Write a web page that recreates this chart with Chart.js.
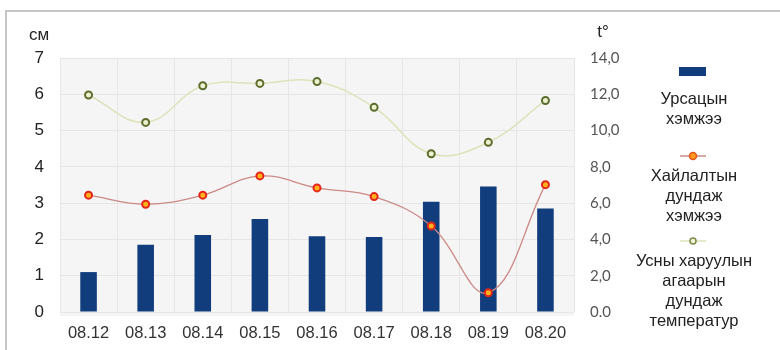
<!DOCTYPE html>
<html>
<head>
<meta charset="utf-8">
<title>Урсац, хайлалт, температур</title>
<script src="https://cdn.jsdelivr.net/npm/chart.js@4/dist/chart.umd.min.js"></script>
<style>
  body { margin: 0; background: #fff; }
  #wrap { position: relative; width: 780px; height: 350px; overflow: hidden; }
  #frame {
    position: absolute; left: 5px; top: 10px; width: 800px; height: 360px;
    border-top: 2px solid #c6c6c6; border-left: 2px solid #c6c6c6;
  }
  canvas { position: absolute; left: 0; top: 0; }
</style>
</head>
<body>
<div id="wrap">
  <div id="frame"></div>
  <canvas id="chart" width="780" height="350"></canvas>
</div>
<script>
// Өдрүүд
const dates = ['08.12', '08.13', '08.14', '08.15', '08.16', '08.17', '08.18', '08.19', '08.20'];

// Урсацын хэмжээ, см
const runoff = [1.10, 1.85, 2.12, 2.56, 2.09, 2.07, 3.04, 3.46, 2.85];

// Хайлалтын дундаж хэмжээ, см
const meltAvg = [3.22, 2.97, 3.22, 3.75, 3.42, 3.18, 2.37, 0.53, 3.51];

// Агаарын дундаж температур, t°
const airTemp = [11.96, 10.45, 12.47, 12.6, 12.7, 11.28, 8.72, 9.35, 11.66];

// Баруун тэнхлэгийн шошго
const tempTicks = ['0.0', '2,0', '4,0', '6,0', '8,0', '10,0', '12,0', '14,0'];

const legendLines = [
  ['Урсацын', 'хэмжээ'],
  ['Хайлалтын', 'дундаж', 'хэмжээ'],
  ['Усны харуулын', 'агаарын', 'дундаж', 'температур'],
];

const FONT = "'Liberation Sans', Arial, sans-serif";
const BAR_COLOR = '#113d7c';
const MELT_LINE = '#cc8a86';
const TEMP_LINE = '#dfe2ba';

// саарал дэвсгэр
const plotBackground = {
  id: 'plotBackground',
  beforeDraw(chart) {
    const { ctx, chartArea: a } = chart;
    ctx.save();
    ctx.fillStyle = '#f5f5f5';
    ctx.fillRect(a.left, a.top, a.right - a.left, a.bottom - a.top + 4);
    ctx.restore();
  },
};

// тэнхлэгийн нэгж ба тайлбар
const sideLegend = {
  id: 'sideLegend',
  afterDraw(chart) {
    const { ctx } = chart;
    ctx.save();
    ctx.textAlign = 'center';
    ctx.textBaseline = 'middle';

    ctx.fillStyle = '#222';
    ctx.font = '17px ' + FONT;
    ctx.fillText('см', 39, 35);
    ctx.fillText('t°', 603, 32);

    const cx = 693;

    // баганан тэмдэг
    ctx.fillStyle = BAR_COLOR;
    ctx.fillRect(679, 67, 27, 9);

    // хайлалтын шугам
    ctx.strokeStyle = MELT_LINE;
    ctx.lineWidth = 1.5;
    ctx.beginPath(); ctx.moveTo(680, 156); ctx.lineTo(706, 156); ctx.stroke();
    ctx.beginPath(); ctx.arc(cx, 156, 3.5, 0, Math.PI * 2);
    ctx.fillStyle = '#ff9a1a'; ctx.fill();
    ctx.strokeStyle = '#e0551b'; ctx.lineWidth = 1.5; ctx.stroke();

    // температурын шугам
    ctx.strokeStyle = TEMP_LINE;
    ctx.lineWidth = 1.5;
    ctx.beginPath(); ctx.moveTo(680, 241); ctx.lineTo(706, 241); ctx.stroke();
    ctx.beginPath(); ctx.arc(cx, 241, 3, 0, Math.PI * 2);
    ctx.fillStyle = '#f2f3d8'; ctx.fill();
    ctx.strokeStyle = '#7d8a45'; ctx.lineWidth = 1.5; ctx.stroke();

    ctx.fillStyle = '#222';
    ctx.font = '16.5px ' + FONT;
    const starts = [99, 176, 261];
    legendLines.forEach((lines, i) => {
      lines.forEach((t, j) => ctx.fillText(t, cx + 1, starts[i] + j * 20.3));
    });
    ctx.restore();
  },
};

new Chart(document.getElementById('chart'), {
  data: {
    labels: dates,
    datasets: [
      {
        type: 'line',
        label: 'Хайлалтын дундаж хэмжээ',
        data: meltAvg,
        yAxisID: 'y',
        borderColor: MELT_LINE,
        borderWidth: 1.3,
        tension: 0.4,
        pointRadius: 3.5,
        pointBorderWidth: 2,
        pointBorderColor: '#e3261b',
        pointBackgroundColor: '#ffb21a',
        order: 1,
      },
      {
        type: 'line',
        label: 'Усны харуулын агаарын дундаж температур',
        data: airTemp,
        yAxisID: 'y2',
        borderColor: TEMP_LINE,
        borderWidth: 1.5,
        tension: 0.4,
        pointRadius: 3.5,
        pointBorderWidth: 2,
        pointBorderColor: '#5c6d2c',
        pointBackgroundColor: '#eef0d2',
        order: 2,
      },
      {
        type: 'bar',
        label: 'Урсацын хэмжээ',
        data: runoff,
        yAxisID: 'y',
        backgroundColor: BAR_COLOR,
        barPercentage: 0.29,
        categoryPercentage: 1,
        order: 3,
      },
    ],
  },
  options: {
    responsive: false,
    animation: false,
    layout: { padding: { top: 58, right: 146, left: 0, bottom: 0 } },
    plugins: { legend: { display: false }, tooltip: { enabled: false } },
    scales: {
      x: {
        offset: true,
        grid: { offset: true, color: '#e6e6e6', drawTicks: false },
        border: { display: false },
        ticks: { color: '#333', font: { family: FONT, size: 16.5 }, padding: 12 },
        afterFit(s) { s.height = 38; },
      },
      y: {
        position: 'left',
        min: 0,
        max: 7,
        ticks: { stepSize: 1, color: '#222', font: { family: FONT, size: 17 }, padding: 16 },
        grid: { color: '#e6e6e6', drawTicks: false },
        border: { display: false },
        afterFit(s) { s.width = 60; },
      },
      y2: {
        position: 'right',
        min: 0,
        max: 14,
        ticks: {
          stepSize: 2,
          color: '#555',
          font: { family: 'Lato, ' + FONT, size: 15 },
          padding: 16,
          callback: (v) => tempTicks[v / 2],
        },
        grid: { drawOnChartArea: false, drawTicks: false },
        border: { display: false },
        afterFit(s) { s.width = 60; },
      },
    },
  },
  plugins: [plotBackground, sideLegend],
});
</script>
</body>
</html>
